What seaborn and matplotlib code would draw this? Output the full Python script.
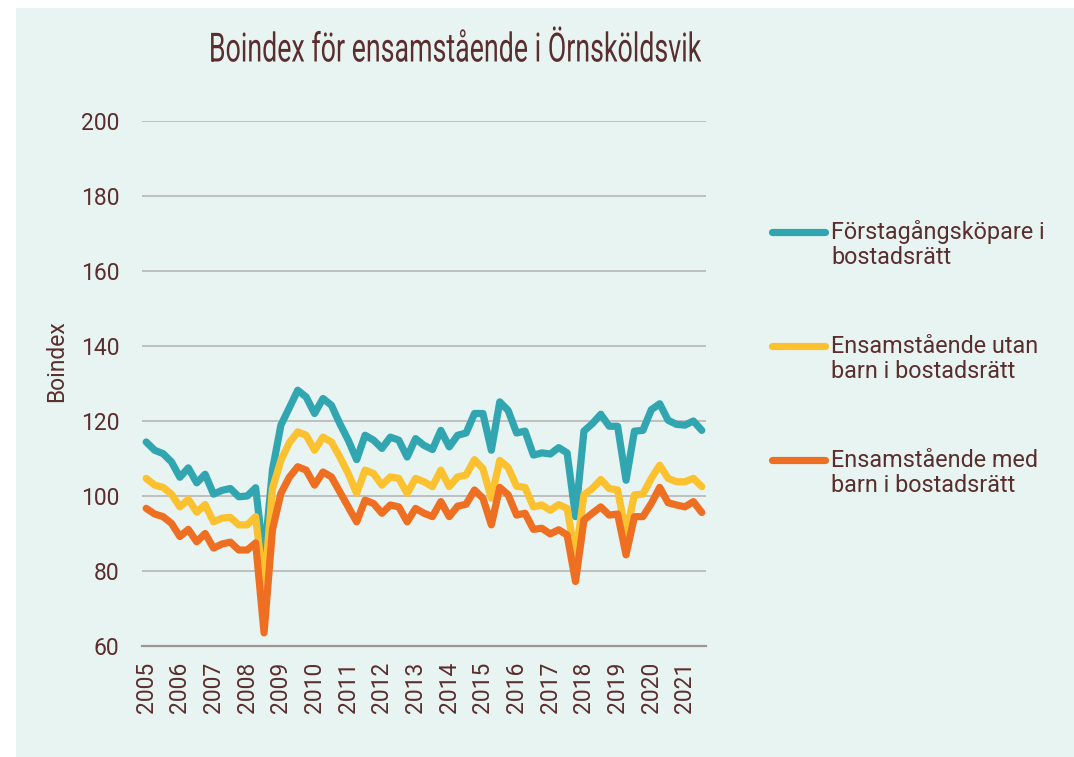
import matplotlib
matplotlib.use("Agg")
import matplotlib.pyplot as plt
from matplotlib.lines import Line2D
from matplotlib.patches import Rectangle
from matplotlib import patheffects
from matplotlib.transforms import Affine2D
import numpy as np
import pandas as pd
import seaborn as sns

# Quarterly housing index, 2005 Q1 - 2021 Q3
years = [str(y) for y in range(2005, 2022)]

forstagang = [
    114.4, 112.2, 111.3, 109.1, 105.0, 107.5, 103.5, 105.8, 100.5, 101.5,
    102.0, 99.8, 100.0, 102.2, 83.0, 107.0, 118.9, 123.5, 128.2, 126.4,
    122.0, 126.0, 124.2, 119.3, 114.9, 109.7, 116.2, 114.9, 112.7, 115.7,
    114.9, 110.4, 115.3, 113.5, 112.4, 117.5, 113.1, 116.2, 116.8, 122.0,
    122.0, 112.2, 125.1, 122.8, 116.8, 117.3, 110.9, 111.5, 111.2, 112.9,
    111.5, 94.5, 117.3, 119.3, 121.8, 118.6, 118.6, 104.2, 117.3, 117.5,
    123.0, 124.6, 120.2, 119.1, 118.9, 120.0, 117.5,
]
utan_barn = [
    104.7, 102.9, 102.3, 100.5, 97.1, 99.1, 95.7, 97.7, 93.1, 94.1,
    94.3, 92.3, 92.3, 94.5, 75.0, 102.0, 109.5, 114.2, 117.1, 116.2,
    112.2, 115.7, 114.4, 110.4, 106.0, 100.7, 106.9, 106.0, 102.9, 105.1,
    104.7, 100.7, 104.7, 103.8, 102.5, 106.9, 102.5, 105.1, 105.6, 109.7,
    107.3, 99.4, 109.5, 107.6, 102.6, 102.3, 97.1, 97.6, 96.2, 97.7,
    96.7, 83.8, 100.3, 102.0, 104.4, 102.0, 101.6, 90.0, 100.3, 100.5,
    104.7, 108.2, 104.7, 103.8, 103.8, 104.7, 102.5,
]
med_barn = [
    96.7, 95.2, 94.5, 92.7, 89.2, 91.1, 87.8, 90.0, 86.1, 87.2,
    87.7, 85.6, 85.6, 87.5, 63.5, 91.0, 100.7, 105.0, 107.8, 106.9,
    102.9, 106.4, 105.1, 101.1, 97.1, 93.1, 98.9, 98.0, 95.4, 97.6,
    97.1, 93.1, 96.7, 95.4, 94.5, 98.5, 94.5, 97.3, 97.8, 101.6,
    99.4, 92.3, 102.3, 100.3, 94.9, 95.4, 91.1, 91.4, 89.9, 91.0,
    89.6, 77.2, 93.6, 95.4, 97.1, 94.9, 95.2, 84.3, 94.5, 94.5,
    98.0, 102.3, 98.2, 97.6, 97.1, 98.5, 95.6,
]

series_names = [
    "Förstagångsköpare i\nbostadsrätt",
    "Ensamstående utan\nbarn i bostadsrätt",
    "Ensamstående med\nbarn i bostadsrätt",
]
colors = ["#31A6B1", "#FCC12E", "#EF6F22"]
text_color = "#5A2E2E"
panel_color = "#E8F4F1"

n = len(forstagang)
df = pd.concat(
    [
        pd.DataFrame({"q": np.arange(n), "Boindex": vals, "serie": name})
        for name, vals in zip(series_names, [forstagang, utan_barn, med_barn])
    ],
    ignore_index=True,
)


class Condense(patheffects.AbstractPathEffect):
    """Narrow glyphs horizontally around a fixed x position (display px)."""

    def __init__(self, sx, cx):
        super().__init__()
        self._sx = sx
        self._cx = cx

    def draw_path(self, renderer, gc, tpath, affine, rgbFace=None):
        squeeze = Affine2D().translate(-self._cx, 0).scale(self._sx, 1).translate(self._cx, 0)
        renderer.draw_path(gc, tpath, affine + squeeze, rgbFace)


sns.set_theme(style="white")
plt.rcParams["font.family"] = ["Roboto", "DejaVu Sans"]

W, H = 1074, 757
fig = plt.figure(figsize=(W / 100, H / 100), dpi=100)
fig.patch.set_facecolor("white")
fig.add_artist(Rectangle((16 / W, 0), 1 - 16 / W, 1 - 8 / H,
                         transform=fig.transFigure, facecolor=panel_color,
                         edgecolor="none", zorder=0))

ax = fig.add_axes([142 / W, 111 / H, 564 / W, 525 / H])
ax.set_facecolor("none")

sns.lineplot(data=df, x="q", y="Boindex", hue="serie", palette=colors,
             hue_order=series_names, linewidth=5.2, sort=False, legend=False,
             ax=ax, solid_capstyle="round", solid_joinstyle="round", zorder=3)

ax.set_xlim(-0.5, n - 0.5)
ax.set_ylim(60, 200)
ax.set_yticks(np.arange(60, 201, 20))
ax.yaxis.grid(True, color="#BFBFBF", linewidth=1.4)
ax.xaxis.grid(False)
for side in ["top", "right", "left"]:
    ax.spines[side].set_visible(False)
ax.spines["bottom"].set_color("#A39595")
ax.spines["bottom"].set_linewidth(1.6)
ax.spines["bottom"].set_zorder(2)

ax.set_xticks(np.arange(0, n, 4))
ax.set_xticklabels(years, rotation=90)
ax.tick_params(axis="x", length=0, pad=11, labelsize=16.5, labelcolor=text_color)
ax.tick_params(axis="y", length=0, pad=16.5, labelsize=16.5, labelcolor=text_color)

ax.set_xlabel("")
ax.set_ylabel("Boindex", fontsize=16.5, color=text_color)
ax.yaxis.set_label_coords(-0.131, 0.542)

title_cx = 455
fig.text(title_cx / W, 1 - 50 / H, "Boindex för ensamstående i Örnsköldsvik",
         ha="center", va="center", fontsize=29, color=text_color,
         path_effects=[Condense(0.665, title_cx)])

# Legend: line sample beside a two-line label
legend_y = [231.5, 346, 460]
for name, col, yy in zip(series_names, colors, legend_y):
    fig.add_artist(Line2D([772 / W, 825 / W], [1 - yy / H, 1 - yy / H],
                          transform=fig.transFigure, color=col, linewidth=5.2,
                          solid_capstyle="round"))
    fig.text(831 / W, 1 - (yy + 13) / H, name, ha="left", va="center",
             fontsize=16.8, color=text_color, linespacing=1.12)

fig.savefig("out.png", dpi=100, facecolor=fig.get_facecolor())
